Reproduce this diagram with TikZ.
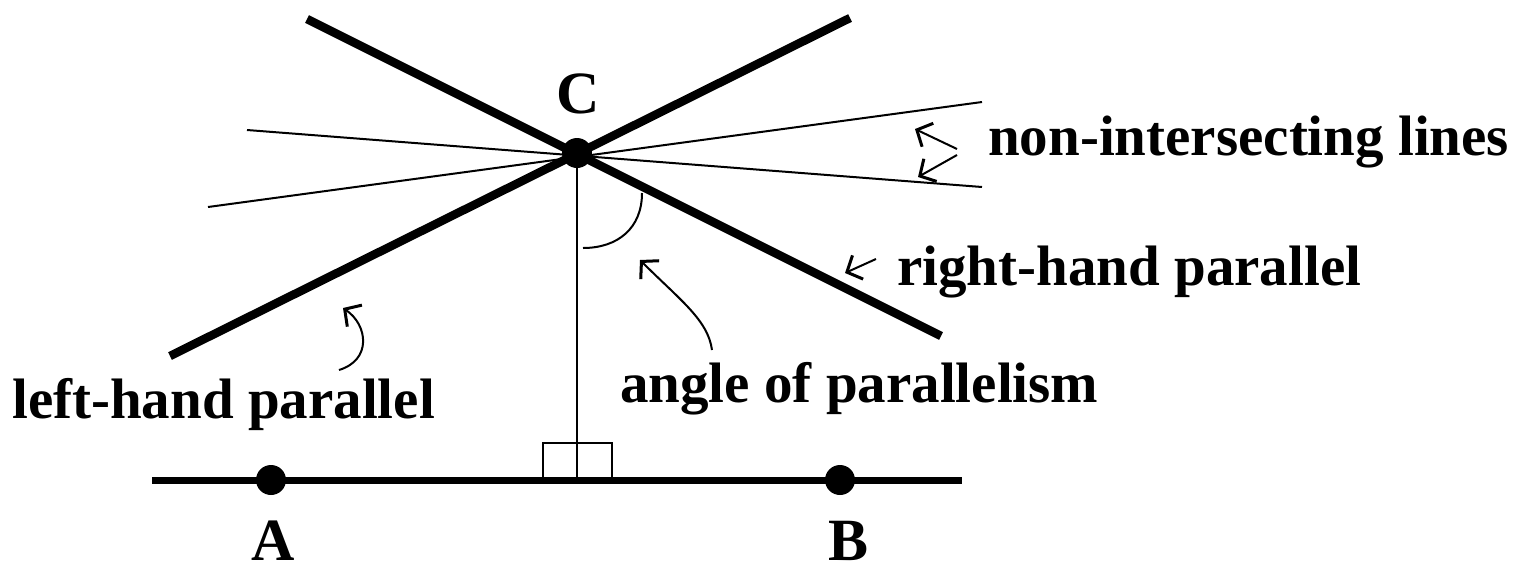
\documentclass[tikz,border=0pt]{standalone}
\usepackage{fontspec}
\setmainfont{Liberation Serif}
\usetikzlibrary{arrows.meta}
\begin{document}
\begin{tikzpicture}[x=1pt,y=-1pt,
  thickline/.style={line width=8.5pt},
  baseline/.style={line width=7pt},
  thinline/.style={line width=2pt},
  perp/.style={line width=2.5pt},
  dot/.style={circle,fill=black,inner sep=0pt,minimum size=30pt},
  lbl/.style={font=\fontsize{57}{60}\selectfont\bfseries,inner sep=0pt,anchor=base west},
  ptlbl/.style={font=\fontsize{60}{62}\selectfont\bfseries,inner sep=0pt,anchor=base},
  pointer/.style={line width=2pt,-{Straight Barb[length=12pt,width=26pt,line width=3pt]}},
]
\useasboundingbox (0,0) rectangle (1517,571);
% coordinates
\coordinate (t1a) at (307,19);
\coordinate (t1b) at (941,336);
\coordinate (t2a) at (850,18);
\coordinate (t2b) at (170,356);
\coordinate (n1a) at (247,130);
\coordinate (n1b) at (982,187);
\coordinate (n2a) at (208,207);
\coordinate (n2b) at (982,102);
\coordinate (bl) at (152,480);
\coordinate (br) at (962,480);
\coordinate (foot) at (577,480);
% thin non-intersecting lines
\draw[thinline] (n1a) -- (n1b);
\draw[thinline] (n2a) -- (n2b);
% thick parallels
\draw[thickline] (t1a) -- (t1b);
\draw[thickline] (t2a) -- (t2b);
% base line
\draw[baseline] (bl) -- (br);
% right angle square
\draw[line width=2pt] (543,480) -- (543,443) -- (612,443) -- (612,480);
% dots
\node[dot] (C) at (577,153) {};
\node[dot] (A) at (271,480) {};
\node[dot] (B) at (840,480) {};
% perpendicular
\draw[perp] (C.center) -- (foot);
% angle arc
\draw[line width=2pt] (642,193) .. controls (642,228) and (618,248) .. (583,248);
% labels
\node[ptlbl] (Clbl) at (578,113) {C};
\node[ptlbl] (Albl) at (273,560) {A};
\node[ptlbl] (Blbl) at (848,560) {B};
\node[lbl] (nil) at (988,155) {non-intersecting lines};
\node[lbl] (rhp) at (897,285) {right-hand parallel};
\node[lbl] (lhp) at (12,418) {left-hand parallel};
\node[lbl] (aop) at (620,402) {angle of parallelism};
% pointers
\coordinate (p1t) at (957,149);
\coordinate (p1h) at (915,129);
\coordinate (p2t) at (957,155);
\coordinate (p2h) at (918,177);
\coordinate (p3t) at (876,259);
\coordinate (p3h) at (845,273);
\coordinate (p4t) at (339,370);
\coordinate (p4h) at (343,308);
\coordinate (p5t) at (712,350);
\coordinate (p5h) at (640,260);
\draw[pointer] (p1t) -- (p1h);
\draw[pointer] (p2t) -- (p2h);
\draw[pointer] (p3t) -- (p3h);
\draw[pointer] (p4t) .. controls (372,360) and (368,325) .. (p4h);
\draw[pointer] (p5t) .. controls (708,320) and (680,300) .. (p5h);
\end{tikzpicture}
\end{document}
